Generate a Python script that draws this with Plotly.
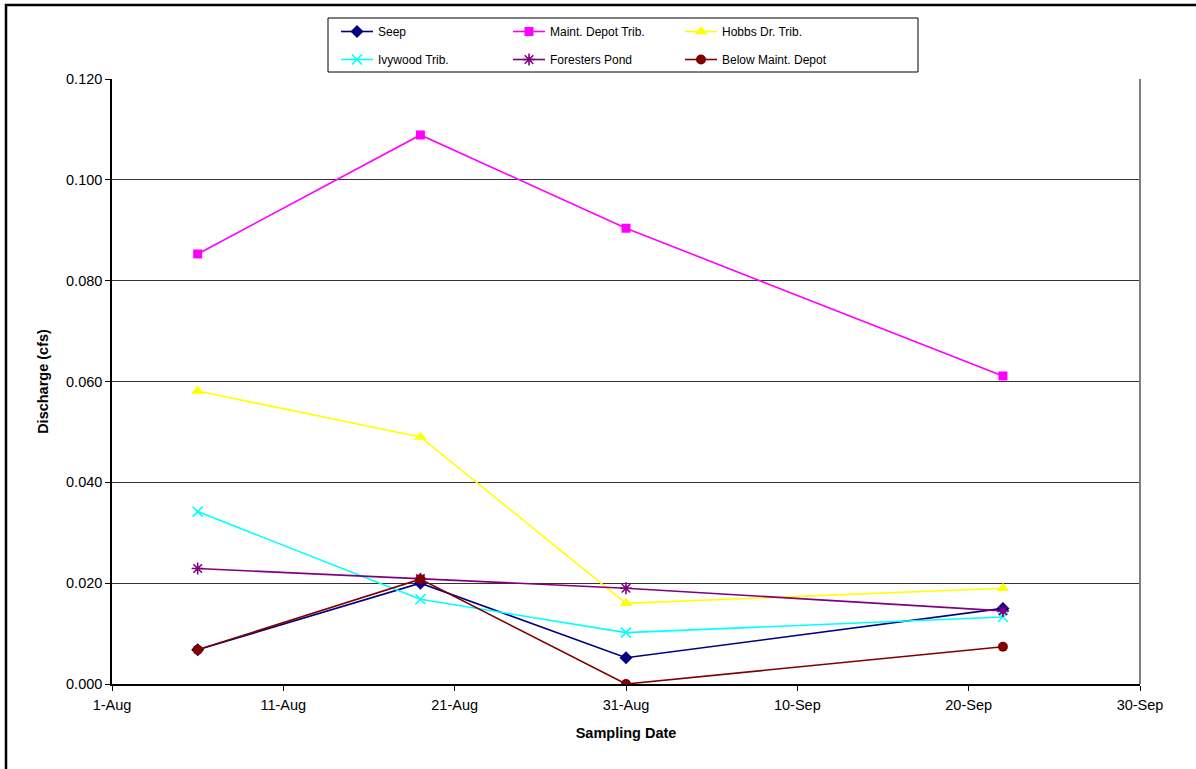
import plotly.graph_objects as go

# Sampling dates and measured discharge (cfs) per site
dates = ["2004-08-06", "2004-08-19", "2004-08-31", "2004-09-22"]

seep = [0.0068, 0.0200, 0.0052, 0.0150]
maint_depot = [0.0853, 0.1089, 0.0904, 0.0611]
hobbs = [0.0581, 0.0490, 0.0160, 0.0190]
ivywood = [0.0342, 0.0168, 0.0102, 0.0133]
foresters = [0.0229, 0.0209, 0.0190, 0.0145]
below_maint = [0.0068, 0.0208, 0.0000, 0.0074]

tick_dates = ["2004-08-01", "2004-08-11", "2004-08-21", "2004-08-31",
              "2004-09-10", "2004-09-20", "2004-09-30"]
tick_labels = ["1-Aug", "11-Aug", "21-Aug", "31-Aug", "10-Sep", "20-Sep", "30-Sep"]
y_ticks = [0.0, 0.02, 0.04, 0.06, 0.08, 0.10, 0.12]

FONT = "Liberation Sans, Arial, sans-serif"

series = [
    ("Seep", seep, "#000080", "diamond", 10, "legend"),
    ("Maint. Depot Trib.", maint_depot, "#FF00FF", "square", 9, "legend"),
    ("Hobbs Dr. Trib.", hobbs, "#FFFF00", "triangle-up", 11, "legend"),
    ("Ivywood Trib.", ivywood, "#00FFFF", "x-thin-open", 10, "legend2"),
    ("Foresters Pond", foresters, "#800080", "asterisk-open", 10, "legend2"),
    ("Below Maint. Depot", below_maint, "#800000", "circle", 10, "legend2"),
]

fig = go.Figure()
for name, vals, color, sym, size, leg in series:
    open_sym = sym.endswith("open")
    fig.add_trace(go.Scatter(
        x=dates, y=vals, name=name, mode="lines+markers",
        line=dict(color=color, width=1.6),
        marker=dict(symbol=sym, size=size, color=color,
                    line=dict(color=color, width=1.6 if open_sym else 0)),
        legend=leg,
    ))

PL, PT, PW, PH = 112, 79, 1028, 605


def px_x(p):
    return (p - PL) / PW


def px_y(p):
    return (PT + PH - p) / PH


legend_common = dict(
    orientation="h", xanchor="left", yanchor="top",
    entrywidth=125, entrywidthmode="pixels", itemwidth=32,
    font=dict(family=FONT, size=12, color="black"),
    bgcolor="rgba(0,0,0,0)", borderwidth=0,
    traceorder="normal",
)

fig.update_layout(
    width=1196, height=769,
    margin=dict(l=PL, r=1196 - PL - PW, t=PT, b=769 - PT - PH),
    paper_bgcolor="white", plot_bgcolor="white",
    font=dict(family=FONT, size=12, color="black"),
    legend=dict(x=px_x(336), y=px_y(17), **legend_common),
    legend2=dict(x=px_x(336), y=px_y(45), **legend_common),
    xaxis=dict(
        type="date",
        range=["2004-08-01", "2004-09-30"],
        tickvals=tick_dates, ticktext=tick_labels,
        ticks="outside", ticklen=5, tickcolor="black", tickwidth=1,
        ticklabelstandoff=2,
        showline=True, linecolor="black", linewidth=1.5,
        showgrid=False, zeroline=False,
        tickfont=dict(family=FONT, size=14.5, color="black"),
        title=dict(text="<b>Sampling Date</b>", standoff=16,
                   font=dict(family=FONT, size=14.5, color="black")),
    ),
    yaxis=dict(
        range=[0, 0.12],
        tickvals=y_ticks, tickformat=".3f",
        ticks="outside", ticklen=5, tickcolor="black", tickwidth=1,
        showline=True, linecolor="black", linewidth=1.5,
        showgrid=True, gridcolor="#333333", gridwidth=1,
        zeroline=False,
        tickfont=dict(family=FONT, size=14.5, color="black"),
        title=dict(text="<b>Discharge (cfs)</b>", standoff=14,
                   font=dict(family=FONT, size=14.5, color="black")),
    ),
    shapes=[
        # right edge of the plot area
        dict(type="line", xref="paper", yref="paper", x0=1, x1=1, y0=0, y1=1,
             line=dict(color="#808080", width=2)),
        # legend frame
        dict(type="rect", xref="paper", yref="paper",
             x0=px_x(328), x1=px_x(918), y0=px_y(72), y1=px_y(18),
             line=dict(color="black", width=1), fillcolor="rgba(0,0,0,0)"),
        # outer chart frame
        dict(type="rect", xref="paper", yref="paper",
             x0=px_x(6), x1=px_x(1210), y0=px_y(790), y1=px_y(5),
             line=dict(color="black", width=2.5), fillcolor="rgba(0,0,0,0)"),
    ],
)

fig.write_html("out.html")
